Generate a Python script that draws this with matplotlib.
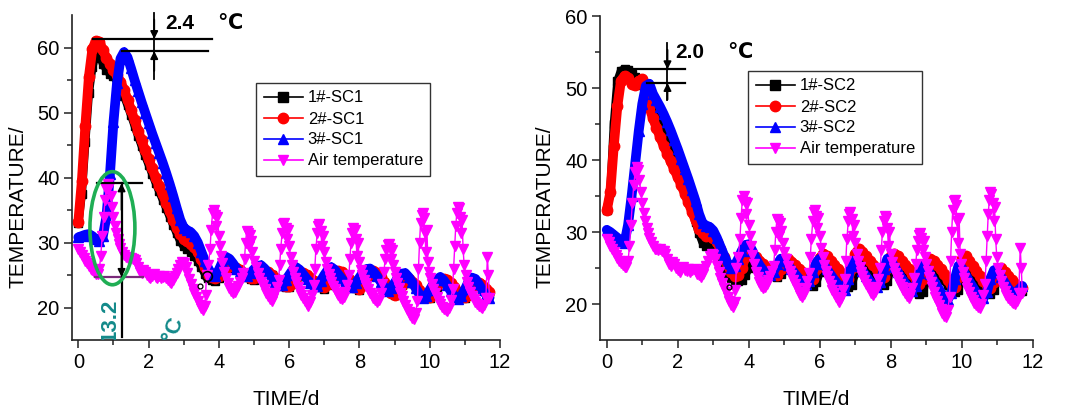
import numpy as np
import matplotlib
matplotlib.use('Agg')
import matplotlib.pyplot as plt
from matplotlib.lines import Line2D
from matplotlib.patches import Ellipse

plt.rcParams['font.family'] = ['Liberation Sans', 'DejaVu Sans']

# ---------------- data ----------------
time_sc = np.round(np.arange(0.0, 11.75, 0.1), 1)   # sampling grid, days

sc1_black = [33.0, 37.5, 45.5, 53.0, 57.0, 59.0, 58.8, 57.5, 56.6, 55.9,
             55.6, 54.8, 53.8, 52.6, 51.1, 49.6, 48.0, 46.4, 44.9, 43.4,
             42.0, 40.6, 39.2, 37.9, 36.6, 35.3, 34.0, 32.7, 31.4, 30.2,
             29.4, 29.0, 28.6, 28.0, 27.2, 26.2, 25.2, 24.5, 24.2, 24.1,
             24.5, 25.2, 25.8, 26.1, 26.2, 26.0, 25.6, 25.1, 24.7, 24.4,
             24.3, 24.6, 25.1, 25.4, 25.3, 25.0, 24.6, 24.1, 23.6, 23.2,
             23.1, 23.6, 24.3, 24.9, 25.1, 24.9, 24.5, 24.0, 23.5, 23.1,
             22.9, 23.4, 24.2, 24.9, 25.2, 25.1, 24.7, 24.2, 23.6, 23.0,
             22.7, 23.3, 24.2, 24.9, 25.2, 25.0, 24.5, 23.8, 23.1, 22.4,
             22.0, 22.6, 23.5, 24.2, 24.2, 23.8, 23.2, 22.6, 22.0, 21.5,
             21.4, 22.2, 23.2, 23.9, 24.1, 23.8, 23.2, 22.6, 22.0, 21.6,
             21.4, 21.9, 22.8, 23.5, 23.6, 23.2, 22.6, 22.1]

sc1_red = [33.2, 39.5, 48.0, 55.5, 59.8, 61.0, 60.9, 59.6, 58.4, 57.5,
           56.6, 55.7, 54.7, 53.5, 52.0, 50.4, 48.8, 47.2, 45.7, 44.2,
           42.8, 41.4, 40.0, 38.7, 37.4, 36.1, 34.8, 33.5, 32.3, 31.3,
           30.6, 30.2, 29.8, 29.3, 28.5, 27.4, 26.2, 25.2, 24.7, 24.5,
           24.8, 25.5, 26.1, 26.4, 26.4, 26.1, 25.7, 25.2, 24.8, 24.6,
           24.6, 24.9, 25.3, 25.5, 25.4, 25.0, 24.5, 24.0, 23.5, 23.3,
           23.3, 23.8, 24.6, 25.2, 25.3, 25.0, 24.6, 24.1, 23.6, 23.3,
           23.1, 23.6, 24.5, 25.3, 25.6, 25.4, 25.0, 24.4, 23.8, 23.2,
           22.9, 23.5, 24.5, 25.2, 25.6, 25.3, 24.7, 23.9, 23.0, 22.3,
           22.0, 22.5, 23.4, 24.2, 24.4, 24.0, 23.4, 22.7, 22.0, 21.6,
           21.6, 22.4, 23.4, 24.1, 24.4, 24.3, 23.8, 23.1, 22.4, 21.9,
           21.6, 22.0, 22.8, 23.5, 23.8, 23.5, 22.9, 22.4]

sc1_blue = [30.8, 31.0, 31.2, 31.3, 31.0, 30.5, 30.3, 31.0, 34.0, 40.5,
            48.5, 54.5, 58.3, 59.3, 58.5, 56.8, 55.0, 53.3, 51.6, 50.0,
            48.4, 46.8, 45.3, 43.8, 42.3, 40.7, 39.0, 37.2, 35.3, 33.5,
            32.3, 31.9, 31.6, 31.0, 30.0, 28.6, 27.2, 26.0, 25.0, 24.8,
            25.8, 27.0, 27.8, 27.5, 26.8, 26.0, 25.4, 25.0, 24.8, 25.3,
            25.9, 26.4, 26.5, 26.0, 25.3, 24.6, 23.9, 23.4, 23.4, 24.2,
            25.0, 25.8, 26.2, 25.8, 25.1, 24.4, 23.8, 23.3, 23.3, 24.1,
            25.0, 25.8, 26.2, 25.8, 25.1, 24.4, 23.7, 23.1, 23.1, 23.8,
            24.6, 25.4, 25.9, 26.0, 25.5, 24.8, 24.0, 23.2, 22.6, 23.0,
            23.8, 24.6, 25.2, 25.3, 24.7, 23.9, 23.0, 22.1, 21.4, 21.8,
            22.7, 23.6, 24.3, 24.7, 24.2, 23.4, 22.5, 21.7, 21.3, 21.8,
            22.8, 23.9, 24.6, 24.4, 23.6, 22.7, 22.0, 21.5]

sc2_black = [33.0, 35.5, 45.0, 51.0, 52.4, 52.6, 52.5, 52.0, 51.5, 51.0,
             50.4, 49.6, 48.6, 47.6, 46.6, 45.5, 44.3, 43.0, 41.7, 40.3,
             38.9, 37.5, 36.0, 34.5, 33.0, 31.4, 29.8, 28.5, 28.0, 27.9,
             27.8, 27.0, 26.0, 25.0, 24.2, 23.6, 23.3, 23.2, 23.3, 24.0,
             25.0, 25.6, 25.8, 25.6, 25.2, 24.8, 24.4, 24.0, 23.8, 24.2,
             25.0, 25.5, 25.4, 25.0, 24.5, 24.0, 23.4, 22.9, 22.5, 23.0,
             24.5, 25.8, 25.9, 25.5, 25.0, 24.4, 23.7, 23.0, 22.3, 22.6,
             24.5, 26.0, 26.1, 25.6, 25.0, 24.4, 23.7, 23.1, 22.7, 23.2,
             25.0, 25.8, 25.6, 25.1, 24.5, 23.8, 23.0, 22.2, 21.4, 21.6,
             23.5, 24.8, 24.9, 24.5, 24.0, 23.3, 22.6, 22.0, 21.6, 22.0,
             24.0, 25.0, 24.8, 24.3, 23.7, 23.0, 22.3, 21.6, 21.4, 22.0,
             23.4, 23.6, 23.2, 22.8, 22.4, 22.0, 21.7, 21.8]

sc2_red = [33.0, 35.5, 42.0, 47.5, 51.0, 51.7, 51.4, 50.6, 50.4, 51.0,
           51.2, 49.5, 47.3, 45.8, 44.5, 43.2, 42.0, 40.9, 39.8, 38.7,
           37.6, 36.5, 35.3, 34.1, 32.8, 31.6, 30.4, 29.8, 29.5, 29.4,
           29.2, 28.6, 27.6, 26.5, 25.4, 24.5, 23.9, 24.0, 25.0, 26.5,
           27.3, 27.0, 26.5, 26.0, 25.5, 25.0, 24.6, 24.2, 24.0, 24.8,
           26.0, 26.3, 25.9, 25.4, 24.9, 24.4, 24.0, 23.6, 23.5, 24.8,
           26.4, 27.0, 26.6, 26.0, 25.4, 24.9, 24.3, 23.8, 23.5, 25.0,
           27.0, 27.7, 27.2, 26.6, 26.0, 25.4, 24.8, 24.2, 23.8, 25.0,
           26.6, 27.0, 26.6, 26.0, 25.4, 24.8, 24.2, 23.5, 22.8, 23.5,
           25.5, 26.3, 26.0, 25.4, 24.8, 24.1, 23.4, 22.8, 22.4, 23.8,
           26.2, 26.6, 26.0, 25.3, 24.6, 23.9, 23.2, 22.6, 22.2, 23.0,
           24.5, 25.0, 24.5, 23.9, 23.3, 22.8, 22.4, 22.2]

sc2_blue = [30.3, 30.0, 29.6, 29.2, 28.7, 28.5, 31.0, 35.0, 39.5, 44.0,
            47.8, 50.3, 50.6, 49.2, 48.3, 47.4, 46.4, 45.3, 44.1, 42.8,
            41.5, 40.1, 38.7, 37.3, 35.8, 34.3, 32.5, 31.2, 30.9, 30.7,
            30.2, 29.2, 28.0, 26.8, 25.7, 25.0, 25.3, 26.3, 27.4, 28.2,
            28.3, 27.4, 26.3, 25.4, 24.7, 24.2, 24.0, 24.5, 25.5, 26.3,
            26.0, 25.4, 24.8, 24.2, 23.6, 23.1, 22.8, 23.2, 24.5, 25.8,
            26.3, 25.6, 24.8, 24.1, 23.4, 22.8, 22.2, 22.0, 23.5, 26.0,
            26.0, 25.3, 24.6, 23.9, 23.2, 22.6, 22.3, 23.0, 24.8, 26.3,
            26.0, 25.2, 24.4, 23.6, 22.9, 22.3, 21.8, 22.5, 24.3, 25.4,
            25.0, 24.2, 23.3, 22.5, 21.7, 21.0, 20.6, 21.5, 23.5, 25.3,
            25.0, 24.1, 23.2, 22.4, 21.6, 21.0, 20.8, 21.6, 23.5, 24.7,
            24.5, 23.8, 23.0, 22.2, 21.6, 21.4, 22.0, 22.5]

air_time = [0.00, 0.05, 0.10, 0.15, 0.20, 0.25, 0.30, 0.35, 0.40, 0.45, 0.50, 0.55, 0.60, 0.64, 0.68, 0.72, 0.76, 0.80, 0.84, 0.88,
            0.92, 0.96, 1.00, 1.04, 1.08, 1.12, 1.16, 1.20, 1.25, 1.30, 1.35, 1.40, 1.45, 1.50, 1.55, 1.60, 1.65, 1.70, 1.75, 1.80,
            1.85, 1.90, 1.95, 2.00, 2.05, 2.10, 2.15, 2.20, 2.25, 2.30, 2.35, 2.40, 2.45, 2.50, 2.55, 2.60, 2.65, 2.70, 2.75, 2.80,
            2.85, 2.90, 2.95, 3.00, 3.05, 3.10, 3.15, 3.20, 3.25, 3.30, 3.35, 3.40, 3.45, 3.50, 3.55, 3.60, 3.62, 3.65, 3.70, 3.75,
            3.78, 3.82, 3.86, 3.90, 3.93, 3.96, 4.00, 4.03, 4.06, 4.10, 4.15, 4.20, 4.25, 4.30, 4.35, 4.40, 4.45, 4.50, 4.55, 4.60,
            4.65, 4.70, 4.73, 4.76, 4.79, 4.82, 4.85, 4.88, 4.91, 4.95, 5.00, 5.05, 5.10, 5.15, 5.20, 5.25, 5.30, 5.35, 5.40, 5.45,
            5.50, 5.55, 5.60, 5.65, 5.70, 5.73, 5.76, 5.80, 5.83, 5.86, 5.90, 5.93, 5.96, 6.00, 6.04, 6.08, 6.12, 6.16, 6.20, 6.25,
            6.30, 6.35, 6.40, 6.45, 6.50, 6.55, 6.60, 6.65, 6.70, 6.73, 6.76, 6.80, 6.83, 6.86, 6.90, 6.93, 6.96, 7.00, 7.04, 7.08,
            7.12, 7.16, 7.20, 7.25, 7.30, 7.35, 7.40, 7.45, 7.50, 7.55, 7.60, 7.65, 7.70, 7.73, 7.76, 7.80, 7.83, 7.86, 7.90, 7.93,
            7.96, 8.00, 8.04, 8.08, 8.12, 8.16, 8.20, 8.25, 8.30, 8.35, 8.40, 8.45, 8.50, 8.55, 8.60, 8.65, 8.70, 8.73, 8.76, 8.80,
            8.83, 8.86, 8.90, 8.93, 8.96, 9.00, 9.04, 9.08, 9.12, 9.16, 9.20, 9.25, 9.30, 9.35, 9.40, 9.45, 9.50, 9.55, 9.60, 9.65,
            9.68, 9.71, 9.74, 9.77, 9.80, 9.83, 9.86, 9.89, 9.92, 9.95, 9.98, 10.02, 10.06, 10.10, 10.15, 10.20, 10.25, 10.30, 10.35, 10.40,
            10.45, 10.50, 10.55, 10.60, 10.65, 10.68, 10.71, 10.74, 10.77, 10.80, 10.83, 10.86, 10.89, 10.92, 10.95, 10.98, 11.02, 11.06, 11.10, 11.15,
            11.20, 11.25, 11.30, 11.35, 11.40, 11.45, 11.50, 11.55, 11.60, 11.64, 11.67, 11.70]

air_temp = [29.0, 28.6, 28.1, 27.6, 27.2, 26.8, 26.4, 26.0, 25.7, 25.4, 25.1, 25.2, 26.0, 28.0, 31.0, 34.0, 36.5, 38.3, 39.0, 38.6,
            37.2, 35.5, 34.0, 32.6, 31.5, 30.6, 29.8, 29.2, 28.6, 28.1, 27.7, 27.6, 27.5, 27.6, 27.4, 27.3, 26.9, 26.2, 25.5, 25.3,
            25.8, 25.5, 25.0, 24.7, 24.5, 24.8, 25.1, 24.7, 24.6, 24.8, 24.5, 24.7, 24.9, 24.6, 24.2, 24.0, 23.8, 24.2, 24.8, 25.3,
            26.0, 26.6, 27.0, 26.8, 26.2, 25.3, 24.4, 23.6, 22.9, 22.2, 21.6, 21.0, 20.4, 19.9, 19.6, 20.3, 22.0, 25.0, 26.5, 29.0,
            32.0, 34.5, 35.0, 34.2, 32.5, 34.0, 31.0, 29.5, 28.0, 26.8, 25.5, 24.5, 23.7, 23.0, 22.5, 22.2, 22.4, 22.8, 23.3, 23.9,
            24.6, 25.3, 27.5, 30.0, 31.8, 31.5, 29.5, 31.2, 30.2, 28.5, 27.2, 26.2, 25.3, 24.6, 24.0, 23.4, 22.8, 22.2, 21.7, 21.3,
            21.0, 21.4, 22.2, 23.2, 24.3, 26.5, 29.0, 31.5, 32.8, 33.0, 32.2, 30.5, 32.0, 29.5, 27.8, 26.5, 25.4, 24.6, 23.9, 23.2,
            22.6, 22.0, 21.5, 21.0, 20.6, 20.3, 20.8, 22.0, 23.5, 26.0, 29.0, 31.5, 32.5, 32.8, 31.8, 29.5, 31.0, 28.5, 27.0, 26.0,
            25.2, 24.5, 23.9, 23.3, 22.8, 22.3, 21.9, 21.5, 21.3, 21.6, 22.4, 23.5, 25.0, 27.5, 30.0, 31.5, 32.2, 32.0, 30.5, 28.0,
            30.0, 27.0, 25.8, 25.0, 24.3, 23.8, 23.3, 22.8, 22.3, 21.9, 21.5, 21.1, 20.8, 21.2, 22.2, 23.6, 25.5, 27.5, 28.8, 29.6,
            29.8, 29.2, 27.5, 28.8, 26.5, 25.5, 24.6, 23.8, 23.0, 22.3, 21.7, 21.0, 20.4, 19.8, 19.3, 18.8, 18.4, 18.2, 19.2, 21.0,
            26.0, 30.0, 33.0, 34.3, 34.5, 33.8, 31.5, 28.5, 32.0, 27.0, 25.5, 24.5, 23.6, 22.9, 22.2, 21.6, 21.0, 20.5, 20.1, 19.8,
            19.6, 19.5, 20.0, 21.2, 22.8, 26.0, 29.5, 32.5, 34.5, 35.5, 35.3, 34.0, 31.5, 33.5, 29.0, 26.5, 25.0, 24.0, 23.2, 22.4,
            21.8, 21.3, 20.9, 20.6, 20.3, 20.1, 20.0, 20.4, 21.5, 27.8, 25.0, 21.5]

labels_sc1 = ['1#-SC1', '2#-SC1', '3#-SC1', 'Air temperature']
labels_sc2 = ['1#-SC2', '2#-SC2', '3#-SC2', 'Air temperature']

colors = ['#000000', '#ff0000', '#0000ff', '#ff00ff']
markers = ['s', 'o', '^', 'v']
band_lw = [6.0, 7.0, 7.0]
band_ms = [6.0, 7.5, 7.5]

# ---------------- figure ----------------
W, H = 1065, 417
fig = plt.figure(figsize=(W / 100, H / 100), dpi=100)
axL = fig.add_axes([72 / W, 1 - 340 / H, 428 / W, 325 / H])
axR = fig.add_axes([600 / W, 1 - 340 / H, 433 / W, 324 / H])


def draw_series(ax, sc_series):
    for vals, c, m, lw, ms in zip(sc_series, colors[:3], markers[:3], band_lw, band_ms):
        ax.plot(time_sc, vals, color=c, lw=lw, solid_capstyle='round',
                solid_joinstyle='round', zorder=2)
        ax.plot(time_sc, vals, color=c, lw=0, marker=m, ms=ms, mec=c, zorder=2)
    ax.plot(air_time, air_temp, color=colors[3], lw=1.0, marker='v', ms=7,
            mec=colors[3], zorder=3)


def style(ax, xlim, ylim, yt_major, yt_minor):
    ax.set_xlim(*xlim)
    ax.set_ylim(*ylim)
    for s in ['top', 'right']:
        ax.spines[s].set_visible(False)
    for s in ['left', 'bottom']:
        ax.spines[s].set_linewidth(1.2)
        ax.spines[s].set_color('#222222')
    ax.set_xticks([0, 2, 4, 6, 8, 10, 12])
    ax.set_xticks([1, 3, 5, 7, 9, 11], minor=True)
    ax.set_yticks(yt_major)
    ax.set_yticks(yt_minor, minor=True)
    ax.tick_params(which='major', direction='out', length=6, width=1.1,
                   labelsize=14.5, pad=3, color='#222222')
    ax.tick_params(which='minor', direction='out', length=3.5, width=1.1,
                   color='#222222')
    ax.set_xlabel('TIME/d', fontsize=15)
    ax.set_ylabel('TEMPERATURE/', fontsize=15)
    ax.xaxis.set_label_coords(0.5, -0.155)
    ax.yaxis.set_label_coords(-0.105, 0.41)


def legend(ax, labels, x0, y0):
    handles = [Line2D([], [], color=c, marker=m, lw=1.2, ms=7.5, mec=c)
               for c, m in zip(colors, markers)]
    leg = ax.legend(handles, labels, loc='upper left',
                    bbox_to_anchor=(x0 / W, 1 - y0 / H),
                    bbox_transform=fig.transFigure, frameon=True,
                    fancybox=False, edgecolor='k', fontsize=12,
                    handlelength=2.35, handletextpad=0.3, labelspacing=0.36,
                    borderpad=0.45, borderaxespad=0)
    leg.get_frame().set_linewidth(1.0)
    leg.set_zorder(20)


# left panel
draw_series(axL, [sc1_black, sc1_red, sc1_blue])
style(axL, (-0.18, 12.0), (15, 65), [20, 30, 40, 50, 60], [25, 35, 45, 55])
legend(axL, labels_sc1, 256, 83)

kw_line = dict(color='k', lw=1.6, zorder=6, clip_on=False)
axL.plot([0.41, 3.8], [61.3, 61.3], **kw_line)
axL.plot([1.23, 3.7], [59.45, 59.45], **kw_line)
axL.plot([2.16, 2.16], [55.1, 65.3], color='k', lw=1.3, zorder=6, clip_on=False)
arr = dict(arrowstyle='-|>', color='k', lw=1.3, mutation_scale=11, shrinkA=0, shrinkB=0)
axL.annotate('', xy=(2.16, 61.3), xytext=(2.16, 64.3), arrowprops=arr, zorder=7)
axL.annotate('', xy=(2.16, 59.45), xytext=(2.16, 56.4), arrowprops=arr, zorder=7)
axL.text(2.47, 63.75, '2.4', fontsize=15, fontweight='bold', va='center', ha='left')
axL.text(3.94, 63.75, '℃', fontsize=15, fontweight='bold', va='center', ha='left')

axL.plot([0.52, 1.80], [39.1, 39.1], color='k', lw=1.6, zorder=6)
axL.plot([0.48, 1.84], [24.7, 24.7], color='#7a2a7a', lw=1.6, zorder=6)
axL.plot([1.23, 1.23], [15.5, 39.1], color='k', lw=1.6, zorder=6)
axL.annotate('', xy=(1.23, 39.1), xytext=(1.23, 35.0), arrowprops=arr, zorder=7)
axL.annotate('', xy=(1.23, 24.7), xytext=(1.23, 28.5), arrowprops=arr, zorder=7)
axL.add_patch(Ellipse((0.97, 32.2), 1.28, 17.4, fill=False, ec='#1fae54', lw=2.6, zorder=8))
axL.text(0.90, 21.4, '13.2', fontsize=16, fontweight='bold', color='#138a8a',
         rotation=90, ha='center', va='top', clip_on=True, zorder=8)
axL.text(2.72, 16.6, '°C', fontsize=16, fontweight='bold', color='#138a8a',
         rotation=72, ha='center', va='center', clip_on=True, zorder=8)
axL.plot([3.65], [24.8], 'o', mfc='none', mec='k', ms=7, mew=1.2, zorder=9)
axL.plot([3.46], [23.3], 'o', mfc='none', mec='k', ms=3.5, mew=0.9, zorder=9)

# right panel
draw_series(axR, [sc2_black, sc2_red, sc2_blue])
style(axR, (-0.19, 12.0), (15, 60), [20, 30, 40, 50, 60], [25, 35, 45, 55])
legend(axR, labels_sc2, 748, 71)

axR.plot([0.66, 2.2], [52.6, 52.6], **kw_line)
axR.plot([1.13, 2.2], [50.7, 50.7], **kw_line)
axR.plot([1.71, 1.71], [48.4, 56.3], color='k', lw=1.3, zorder=6)
axR.annotate('', xy=(1.71, 52.6), xytext=(1.71, 55.3), arrowprops=arr, zorder=7)
axR.annotate('', xy=(1.71, 50.7), xytext=(1.71, 48.4), arrowprops=arr, zorder=7)
axR.text(1.92, 54.9, '2.0', fontsize=15, fontweight='bold', va='center', ha='left')
axR.text(3.38, 54.9, '℃', fontsize=15, fontweight='bold', va='center', ha='left')
axR.plot([3.45], [22.4], 'o', mfc='none', mec='k', ms=3.5, mew=0.9, zorder=9)

fig.savefig('out.png', dpi=100)
